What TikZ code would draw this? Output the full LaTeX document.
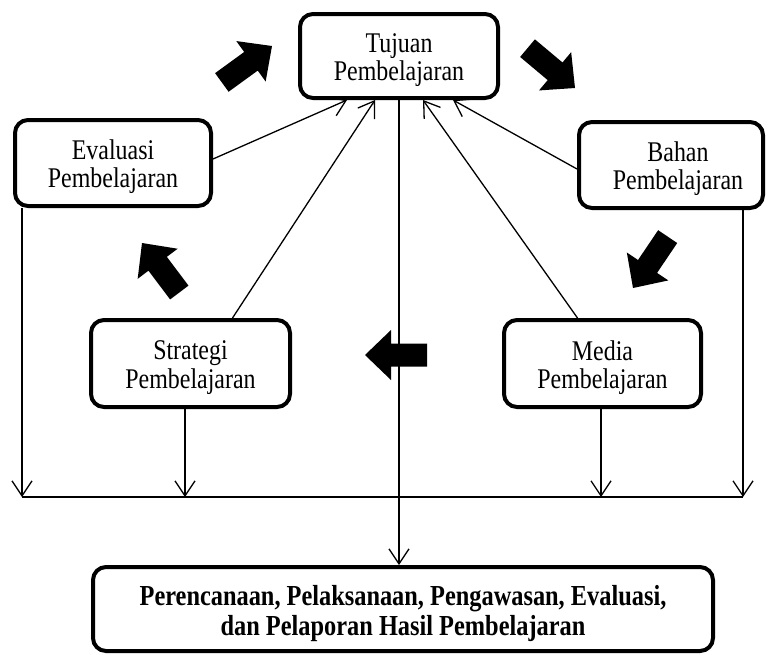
\documentclass[tikz,border=0pt]{standalone}
\usepackage{fontspec}
\setmainfont{Liberation Serif}[FakeStretch=0.84]
\usetikzlibrary{arrows.meta,calc}
\newcommand\boxtxt[2][0pt]{\hspace*{#1}\raisebox{-5pt}[\height][\depth]{\begin{tabular}{@{}c@{}}#2\end{tabular}}}
\tikzset{
  box/.style={draw, line width=4pt, rounded corners=13pt, inner sep=0pt,
    font=\fontsize{28.5}{27.5}\selectfont},
  conn/.style={line width=1.3pt, -{Straight Barb[length=15pt,width=20pt]}},
  busline/.style={line width=2pt},
  blockarrow/.pic={\fill (0,0) -- (-26,25) -- (-26,11.5) -- (-62,11.5) -- (-62,-11.5) -- (-26,-11.5) -- (-26,-25) -- cycle;}
}
\begin{document}
\begin{tikzpicture}[x=1pt,y=-1pt]
\useasboundingbox (0,0) rectangle (768,654);
% boxes
\node[box, minimum width=198pt, minimum height=84pt] (tuj) at (399,56) {\boxtxt{Tujuan\\Pembelajaran}};
\node[box, minimum width=196pt, minimum height=86pt] (eva) at (113,163) {\boxtxt{Evaluasi\\Pembelajaran}};
\node[box, minimum width=184pt, minimum height=86pt] (bah) at (671,165) {\boxtxt[14pt]{Bahan\\Pembelajaran}};
\node[box, minimum width=199pt, minimum height=87pt] (str) at (190.5,363.5) {\boxtxt{Strategi\\Pembelajaran}};
\node[box, minimum width=197pt, minimum height=87pt] (med) at (602.5,363.5) {\boxtxt{Media\\Pembelajaran}};
\node[box, minimum width=620pt, minimum height=84pt, font=\fontsize{29}{30}\selectfont\bfseries] (fin) at (403,609) {\boxtxt{Perencanaan, Pelaksanaan, Pengawasan, Evaluasi,\\dan Pelaporan Hasil Pembelajaran}};
% connectors into Tujuan
\draw[conn] ([yshift=4pt]eva.east) -- ([xshift=-52pt]tuj.south);
\draw[conn] ([xshift=42pt]str.north) -- ([xshift=-24pt]tuj.south);
\draw[conn] ([xshift=-25pt]med.north) -- ([xshift=24pt]tuj.south);
\draw[conn] ([yshift=-4pt]bah.west) -- ([xshift=54pt]tuj.south);
% bus
\coordinate (b1) at (22,497);
\coordinate (b2) at (185,497);
\coordinate (b3) at (601,497);
\coordinate (b4) at (743,497);
\draw[conn] (eva.south -| b1) -- (b1);
\draw[conn] (str.south -| b2) -- (b2);
\draw[conn] (med.south -| b3) -- (b3);
\draw[conn] (bah.south -| b4) -- (b4);
\draw[busline] (b1) -- (b4);
\draw[conn] (tuj.south) -- (tuj.south |- fin.north);
% block arrows
\pic[rotate=36] at (272,46) {blockarrow};
\pic[rotate=-40] at (575,88) {blockarrow};
\pic[rotate=-124] at (633,288) {blockarrow};
\pic[rotate=127] at (142,243) {blockarrow};
\pic[rotate=180] at (365,355) {blockarrow};
\end{tikzpicture}
\end{document}
